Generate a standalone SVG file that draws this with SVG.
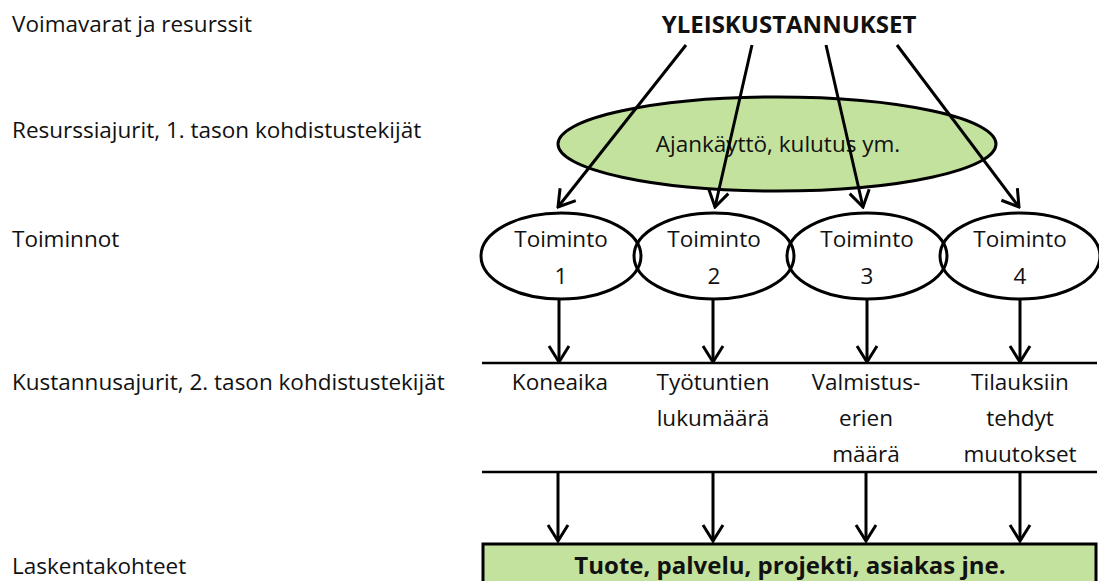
<svg xmlns="http://www.w3.org/2000/svg" width="1099" height="581" viewBox="0 0 1099 581">
<style>
text{font-family:"Open Sans","Liberation Sans",sans-serif;font-size:22.5px;fill:#111}
.c{text-anchor:middle}
.b{font-weight:bold;font-size:24px}
.o{fill:none;stroke:#000;stroke-width:3}
.g{fill:#C3E29E;stroke:#000;stroke-width:3}
.l{stroke:#000;stroke-width:2.5;fill:none}
.a{stroke:#000;stroke-width:3;fill:none;marker-end:url(#ah)}
</style>
<defs>
<marker id="ah" markerUnits="userSpaceOnUse" viewBox="0 0 20 24" refX="18" refY="12" markerWidth="20" markerHeight="24" orient="auto">
<path d="M2,2 L18,12 L2,22" fill="none" stroke="#000" stroke-width="3"/>
</marker>
</defs>
<rect width="1099" height="581" fill="#fff"/>
<g id="labels">
<text x="12" y="32">Voimavarat ja resurssit</text>
<text x="12" y="138">Resurssiajurit, 1. tason kohdistustekijät</text>
<text x="12" y="247">Toiminnot</text>
<text x="12" y="390">Kustannusajurit, 2. tason kohdistustekijät</text>
<text x="12" y="574">Laskentakohteet</text>
</g>
<g id="yleiskustannukset"><text class="c b" x="789" y="33">YLEISKUSTANNUKSET</text></g>
<g id="resurssiajurit">
<ellipse class="g" cx="777" cy="144" rx="219" ry="47"/>
<text class="c" x="778" y="152">Ajankäyttö, kulutus ym.</text>
</g>
<g id="toiminto1"><ellipse class="o" cx="561" cy="256" rx="80" ry="43"/><text class="c" x="561" y="247">Toiminto</text><text class="c" x="561" y="284">1</text></g>
<g id="toiminto2"><ellipse class="o" cx="714" cy="256" rx="80" ry="43"/><text class="c" x="714" y="247">Toiminto</text><text class="c" x="714" y="284">2</text></g>
<g id="toiminto3"><ellipse class="o" cx="867" cy="256" rx="80" ry="43"/><text class="c" x="867" y="247">Toiminto</text><text class="c" x="867" y="284">3</text></g>
<g id="toiminto4"><ellipse class="o" cx="1020" cy="256" rx="80" ry="43"/><text class="c" x="1020" y="247">Toiminto</text><text class="c" x="1020" y="284">4</text></g>
<g id="kustannusajurit">
<line class="l" x1="482" y1="363" x2="1097" y2="363"/>
<line class="l" x1="482" y1="472" x2="1097" y2="472"/>
<text class="c" x="560" y="390">Koneaika</text>
<text class="c" x="713" y="390">Työtuntien</text>
<text class="c" x="713" y="426">lukumäärä</text>
<text class="c" x="866" y="390">Valmistus-</text>
<text class="c" x="866" y="426">erien</text>
<text class="c" x="866" y="462">määrä</text>
<text class="c" x="1020" y="390">Tilauksiin</text>
<text class="c" x="1020" y="426">tehdyt</text>
<text class="c" x="1020" y="462">muutokset</text>
</g>
<g id="laskentakohteet">
<rect class="g" x="483" y="544" width="613" height="41"/>
<text class="c b" x="790" y="574">Tuote, palvelu, projekti, asiakas jne.</text>
</g>
<g id="connectors">
<line class="a" x1="686" y1="45" x2="558" y2="207"/>
<line class="a" x1="752" y1="45" x2="715" y2="207"/>
<line class="a" x1="826" y1="45" x2="863" y2="207"/>
<line class="a" x1="897" y1="45" x2="1019" y2="207"/>
<line class="a" x1="559" y1="298" x2="559" y2="362"/>
<line class="a" x1="713" y1="298" x2="713" y2="362"/>
<line class="a" x1="867" y1="298" x2="867" y2="362"/>
<line class="a" x1="1020" y1="298" x2="1020" y2="362"/>
<line class="a" x1="558" y1="472" x2="558" y2="541"/>
<line class="a" x1="713" y1="472" x2="713" y2="541"/>
<line class="a" x1="866" y1="472" x2="866" y2="541"/>
<line class="a" x1="1020" y1="472" x2="1020" y2="541"/>
</g>
</svg>
